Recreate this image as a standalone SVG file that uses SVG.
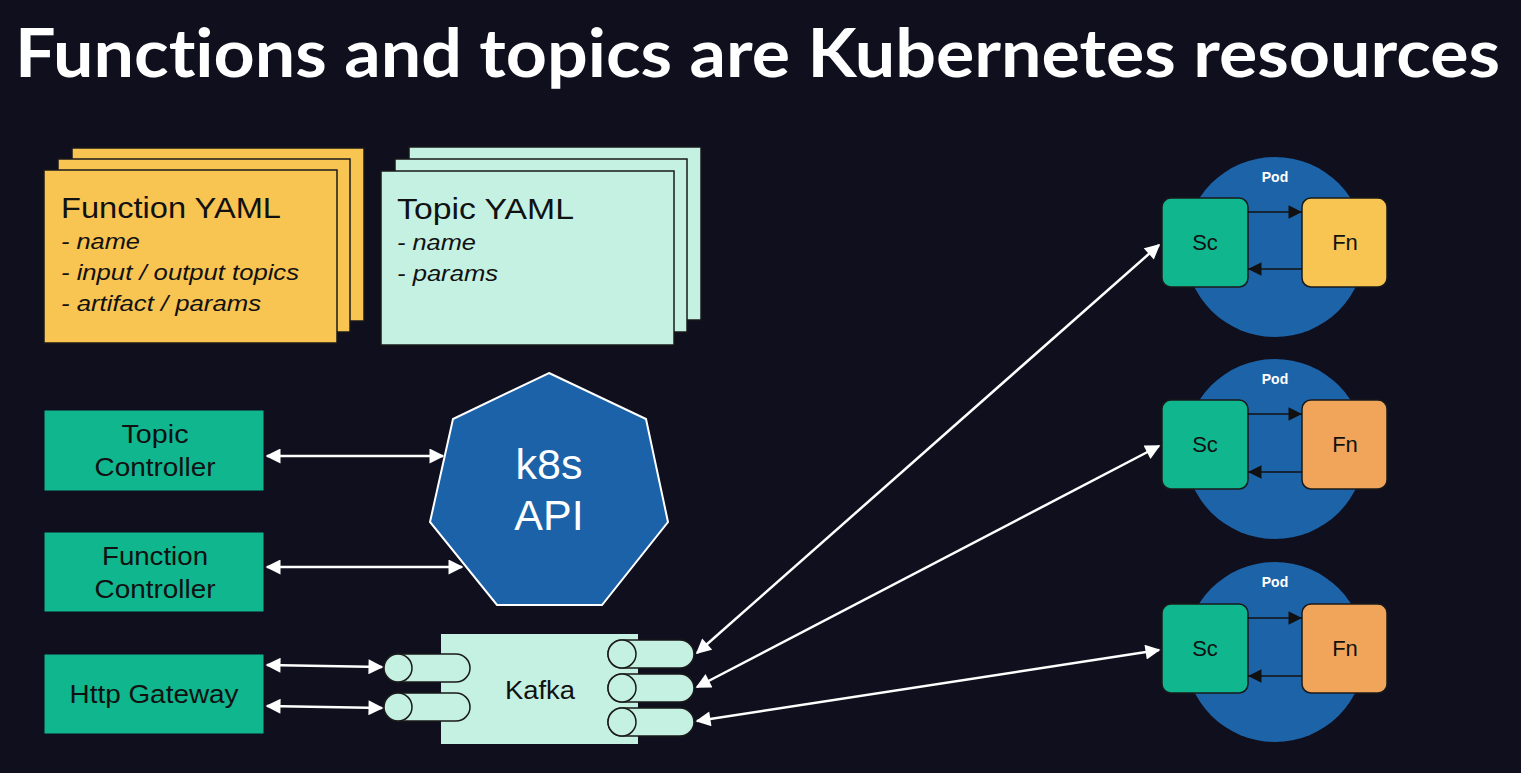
<svg xmlns="http://www.w3.org/2000/svg" width="1521" height="773" viewBox="0 0 1521 773">
<style>
.bg{fill:#0f0f1e}
.title{font-family:Lato,"Liberation Sans",sans-serif;font-weight:700;font-size:67px;fill:#ffffff;font-variant-ligatures:none}
.fcard{fill:#f8c452;stroke:#1a1a1a;stroke-width:1.5}
.tcard{fill:#c5f1e3;stroke:#1a1a1a;stroke-width:1.5}
.hdr{font-family:"Liberation Sans",Arial,sans-serif;font-size:29px;fill:#111}
.item{font-family:"Liberation Sans",Arial,sans-serif;font-size:22px;font-style:italic;fill:#111}
.ctrl{fill:#0fb68e;stroke:#0f0f1e;stroke-width:1}
.ctxt{font-family:"Liberation Sans",Arial,sans-serif;font-size:25px;fill:#111;text-anchor:middle}
.api{fill:#1c62a8;stroke:#ffffff;stroke-width:2}
.apitxt{font-family:"Liberation Sans",Arial,sans-serif;font-size:43px;fill:#ffffff;text-anchor:middle}
.kafka{fill:#c5f1e3}
.cyl{fill:#c5f1e3;stroke:#1a1a1a;stroke-width:1.5}
.pod{fill:#1c63a8}
.podtxt{font-family:"Liberation Sans",Arial,sans-serif;font-size:14px;font-weight:700;fill:#ffffff;text-anchor:middle}
.sc{fill:#0fb68e;stroke:#1a1a1a;stroke-width:1.5}
.fn1{fill:#f8c452;stroke:#1a1a1a;stroke-width:1.5}
.fn2{fill:#f0a55a;stroke:#1a1a1a;stroke-width:1.5}
.btxt{font-family:"Liberation Sans",Arial,sans-serif;font-size:22px;fill:#111;text-anchor:middle}
.wl{stroke:#ffffff;stroke-width:2.5;fill:none;marker-start:url(#wa);marker-end:url(#wa)}
.bl{stroke:#111;stroke-width:1.5;fill:none;marker-end:url(#ba)}
</style>
<defs>
<marker id="wa" viewBox="0 0 10 10" refX="9" refY="5" markerWidth="6.5" markerHeight="6" markerUnits="strokeWidth" orient="auto-start-reverse">
<path d="M0,0 L10,5 L0,10 z" fill="#ffffff"/>
</marker>
<marker id="ba" viewBox="0 0 10 10" refX="10" refY="5" markerWidth="10" markerHeight="9" markerUnits="strokeWidth" orient="auto">
<path d="M0,0 L10,5 L0,10 z" fill="#111"/>
</marker>
</defs>
<rect class="bg" x="0" y="0" width="1521" height="773"/>
<text class="title" x="15" y="77" textLength="1485" lengthAdjust="spacingAndGlyphs">Functions and topics are Kubernetes resources</text>

<g id="function-yaml">
<rect class="fcard" x="72" y="148" width="292" height="173"/>
<rect class="fcard" x="58" y="159" width="292" height="173"/>
<rect class="fcard" x="44" y="170" width="293" height="173"/>
<text class="hdr" x="61" y="218" textLength="220" lengthAdjust="spacingAndGlyphs">Function YAML</text>
<text class="item" x="61" y="249" textLength="79" lengthAdjust="spacingAndGlyphs">- name</text>
<text class="item" x="61" y="280" textLength="238" lengthAdjust="spacingAndGlyphs">- input / output topics</text>
<text class="item" x="61" y="311" textLength="200" lengthAdjust="spacingAndGlyphs">- artifact / params</text>
</g>

<g id="topic-yaml">
<rect class="tcard" x="409" y="147" width="292" height="173"/>
<rect class="tcard" x="395" y="159" width="292" height="173"/>
<rect class="tcard" x="381" y="171" width="293" height="174"/>
<text class="hdr" x="397" y="219" textLength="177" lengthAdjust="spacingAndGlyphs">Topic YAML</text>
<text class="item" x="397" y="250" textLength="79" lengthAdjust="spacingAndGlyphs">- name</text>
<text class="item" x="397" y="281" textLength="101" lengthAdjust="spacingAndGlyphs">- params</text>
</g>

<g id="topic-controller">
<rect class="ctrl" x="44" y="410" width="220" height="81"/>
<text class="ctxt" x="155" y="443" textLength="67" lengthAdjust="spacingAndGlyphs">Topic</text>
<text class="ctxt" x="155" y="476" textLength="121" lengthAdjust="spacingAndGlyphs">Controller</text>
</g>

<g id="function-controller">
<rect class="ctrl" x="44" y="532" width="220" height="80"/>
<text class="ctxt" x="155" y="565" textLength="106" lengthAdjust="spacingAndGlyphs">Function</text>
<text class="ctxt" x="155" y="598" textLength="121" lengthAdjust="spacingAndGlyphs">Controller</text>
</g>

<g id="http-gateway">
<rect class="ctrl" x="44" y="654" width="220" height="80"/>
<text class="ctxt" x="154" y="703" textLength="169" lengthAdjust="spacingAndGlyphs">Http Gateway</text>
</g>

<g id="k8s-api">
<polygon class="api" points="549,373 646,419 668,522 602,605 497,605 430,522 453,419"/>
<text class="apitxt" x="549" y="479">k8s</text>
<text class="apitxt" x="549" y="530">API</text>
</g>

<g id="kafka">
<rect class="kafka" x="441" y="634" width="197" height="110"/>
<rect class="cyl" x="384" y="654" width="86" height="28" rx="14"/>
<circle class="cyl" cx="398" cy="668" r="14"/>
<rect class="cyl" x="384" y="693" width="86" height="28" rx="14"/>
<circle class="cyl" cx="398" cy="707" r="14"/>
<rect class="cyl" x="608" y="640" width="86" height="28" rx="14"/>
<circle class="cyl" cx="622" cy="654" r="14"/>
<rect class="cyl" x="608" y="674" width="86" height="28" rx="14"/>
<circle class="cyl" cx="622" cy="688" r="14"/>
<rect class="cyl" x="608" y="708" width="86" height="28" rx="14"/>
<circle class="cyl" cx="622" cy="722" r="14"/>
<text class="ctxt" x="540" y="699" textLength="70" lengthAdjust="spacingAndGlyphs">Kafka</text>
</g>

<g id="pod-1">
<circle class="pod" cx="1275" cy="247" r="90"/>
<text class="podtxt" x="1275" y="182">Pod</text>
<rect class="sc" x="1162" y="198" width="86" height="89" rx="9"/>
<rect class="fn1" x="1302" y="198" width="85" height="89" rx="9"/>
<text class="btxt" x="1205" y="250">Sc</text>
<text class="btxt" x="1345" y="250">Fn</text>
</g>

<g id="pod-2">
<circle class="pod" cx="1275" cy="449" r="90"/>
<text class="podtxt" x="1275" y="384">Pod</text>
<rect class="sc" x="1162" y="400" width="86" height="89" rx="9"/>
<rect class="fn2" x="1302" y="400" width="85" height="89" rx="9"/>
<text class="btxt" x="1205" y="452">Sc</text>
<text class="btxt" x="1345" y="452">Fn</text>
</g>

<g id="pod-3">
<circle class="pod" cx="1275" cy="652" r="90"/>
<text class="podtxt" x="1275" y="587">Pod</text>
<rect class="sc" x="1162" y="604" width="86" height="89" rx="9"/>
<rect class="fn2" x="1302" y="604" width="85" height="89" rx="9"/>
<text class="btxt" x="1205" y="656">Sc</text>
<text class="btxt" x="1345" y="656">Fn</text>
</g>

<g id="connectors">
<line class="wl" x1="267" y1="456" x2="443" y2="456"/>
<line class="wl" x1="267" y1="567" x2="462" y2="567"/>
<line class="wl" x1="267" y1="665" x2="382" y2="667"/>
<line class="wl" x1="267" y1="706" x2="382" y2="708"/>
<line class="wl" x1="697" y1="653" x2="1159" y2="245"/>
<line class="wl" x1="697" y1="687" x2="1159" y2="446"/>
<line class="wl" x1="697" y1="721" x2="1159" y2="650"/>
<line class="bl" x1="1248" y1="212" x2="1302" y2="212"/>
<line class="bl" x1="1302" y1="269" x2="1248" y2="269"/>
<line class="bl" x1="1248" y1="414" x2="1302" y2="414"/>
<line class="bl" x1="1302" y1="472" x2="1248" y2="472"/>
<line class="bl" x1="1248" y1="618" x2="1302" y2="618"/>
<line class="bl" x1="1302" y1="676" x2="1248" y2="676"/>
</g>
</svg>
